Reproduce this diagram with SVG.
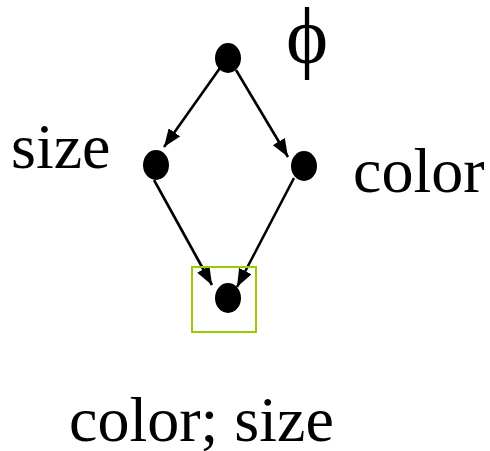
<svg xmlns="http://www.w3.org/2000/svg" width="490" height="451" viewBox="0 0 490 451">
  <defs>
    <style>
      .node { fill: #000; }
      .edge { stroke: #000; stroke-width: 2.6; fill: none; marker-end: url(#arrow); }
      .label { font-family: "Liberation Serif", "Times New Roman", serif; font-size: 64px; fill: #000; }
      .sel { fill: none; stroke: #99cc00; stroke-width: 2; }
    </style>
    <marker id="arrow" viewBox="0 0 18 14" refX="18" refY="7" markerWidth="18" markerHeight="14" markerUnits="userSpaceOnUse" orient="auto">
      <path d="M0,0 L18,7 L0,14 Z" fill="#000"/>
    </marker>
  </defs>
  <rect width="490" height="451" fill="#fff"/>

  <g id="connectors">
    <line class="edge" x1="220" y1="68" x2="164" y2="147"/>
    <line class="edge" x1="236" y1="70" x2="288" y2="157"/>
    <line class="edge" x1="154" y1="180" x2="212" y2="285"/>
    <line class="edge" x1="294" y1="178" x2="237" y2="287"/>
  </g>

  <g id="node-top">
    <ellipse class="node" cx="228" cy="58" rx="13" ry="15"/>
    <text class="label" x="286" y="63" style="font-size:80px">ϕ</text>
  </g>
  <g id="node-size">
    <ellipse class="node" cx="156" cy="165" rx="13" ry="15"/>
    <text class="label" x="11" y="168">size</text>
  </g>
  <g id="node-color">
    <ellipse class="node" cx="304" cy="166" rx="13" ry="15"/>
    <text class="label" x="353" y="192">color</text>
  </g>
  <g id="node-both">
    <rect class="sel" x="192" y="267" width="64" height="65"/>
    <ellipse class="node" cx="228" cy="298" rx="13" ry="15"/>
    <text class="label" x="69" y="441">color; size</text>
  </g>
</svg>
